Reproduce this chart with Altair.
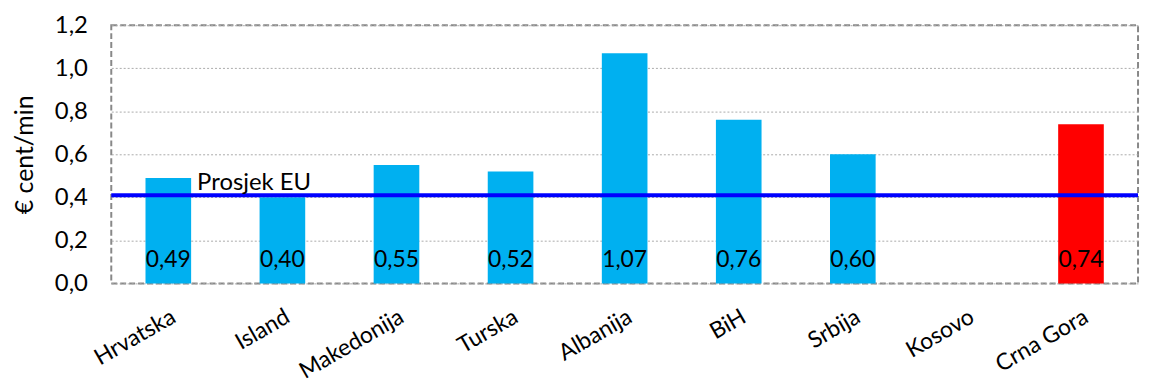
import altair as alt
import pandas as pd

countries = ["Hrvatska", "Island", "Makedonija", "Turska", "Albanija", "BiH", "Srbija", "Kosovo", "Crna Gora"]
values = [0.49, 0.40, 0.55, 0.52, 1.07, 0.76, 0.60, None, 0.74]
colors = ["#00B0F0"] * 8 + ["#FF0000"]
eu_avg = 0.41
eu_label = "Prosjek EU"

df = pd.DataFrame({"country": countries, "value": values, "color": colors})
df["label"] = [("%.2f" % v).replace(".", ",") if v is not None and v == v else "" for v in values]

FONT = "Lato"
xscale = alt.Scale(domain=countries, paddingInner=0.6, paddingOuter=0.3)
x = alt.X("country:N", scale=xscale, title=None,
          axis=alt.Axis(labelAngle=-30, labelFontSize=23, labelFont=FONT,
                        labelPadding=22, ticks=False, domain=False, grid=False,
                        labelColor="#000"))
yscale = alt.Scale(domain=[0, 1.2])

base = alt.Chart(df)

bars = base.mark_bar().encode(
    x=x,
    y=alt.Y("value:Q", scale=yscale, title="€ cent/min",
            axis=alt.Axis(values=[0, 0.2, 0.4, 0.6, 0.8, 1.0, 1.2],
                          labelExpr="replace(format(datum.value, '.1f'), '.', ',')",
                          labelFontSize=24, labelFont=FONT, labelColor="#000",
                          labelPadding=24, ticks=False, domain=False,
                          titleFontSize=25, titleFont=FONT, titleFontWeight="normal",
                          titleColor="#000", titlePadding=17,
                          gridColor="#aaaaaa", gridDash=[2, 2], gridWidth=1)),
    color=alt.Color("color:N", scale=None),
)

labels = base.mark_text(baseline="alphabetic", dy=-17, fontSize=23, font=FONT, color="#000").encode(
    x=alt.X("country:N", scale=xscale),
    y=alt.datum(0),
    text="label:N",
)

eu_df = pd.DataFrame({"v": [eu_avg], "t": [eu_label], "country": [countries[0]]})
rule = alt.Chart(eu_df).mark_rule(color="#0000FF", strokeWidth=4).encode(y=alt.Y("v:Q", scale=yscale))
eu_text = alt.Chart(eu_df).mark_text(align="left", baseline="alphabetic", dx=29, dy=-5,
                                      fontSize=24, font=FONT, color="#000").encode(
    x=alt.X("country:N", scale=xscale), y=alt.Y("v:Q", scale=yscale), text="t:N")

chart = alt.layer(bars, labels, rule, eu_text).properties(
    width=1034, height=260,
    autosize=alt.AutoSizeParams(type="none"),
    padding={"left": 104, "top": 16, "right": 4, "bottom": 101},
).configure_view(
    stroke="#888888", strokeWidth=2, strokeDash=[6, 3]
)

chart.save("out.html", embed_options={"renderer": "svg", "actions": False})
